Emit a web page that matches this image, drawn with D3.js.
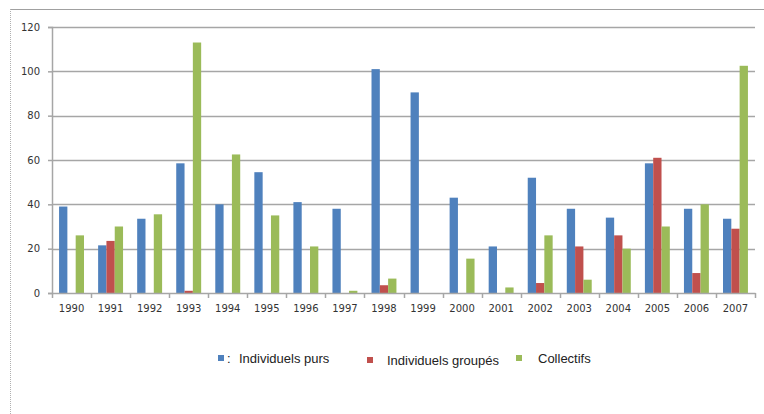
<!DOCTYPE html>
<html><head><meta charset="utf-8">
<script src="https://cdn.jsdelivr.net/npm/d3@7"></script>
<style>body{margin:0;background:#fff;}svg{display:block;}</style>
</head><body>
<svg id="c" width="764" height="414"></svg>
<script>
const years = ["1990","1991","1992","1993","1994","1995","1996","1997","1998","1999","2000","2001","2002","2003","2004","2005","2006","2007"];
const individuelsPurs   = [39, 21.5, 33.5, 58.5, 40, 54.5, 41, 38, 101, 90.5, 43, 21, 52, 38, 34, 58.5, 38, 33.5];
const individuelsGroupes = [0, 23.5, 0, 1, 0, 0, 0, 0, 3.5, 0, 0, 0, 4.5, 21, 26, 61, 9, 29];
const collectifs        = [26, 30, 35.5, 113, 62.5, 35, 21, 1, 6.5, 0, 15.5, 2.5, 26, 6, 20, 30, 40, 102.5];
const seriesNames = ["Individuels purs", "Individuels groupés", "Collectifs"];
const colors = ["#4F81BD", "#C0504D", "#9BBB59"];
const yTicks = [0, 20, 40, 60, 80, 100, 120];

const svg = d3.select("#c");
const pLeft = 52, pRight = 755, pTop = 27, pBottom = 293;

// outer frame
svg.append("line").attr("x1",10).attr("x2",764).attr("y1",9.5).attr("y2",9.5).attr("stroke","#a0a0a0").attr("stroke-width",1);
svg.append("line").attr("x1",10.5).attr("x2",10.5).attr("y1",9).attr("y2",414).attr("stroke","#b0b0b0").attr("stroke-width",1).attr("stroke-dasharray","1,1");

const x = d3.scaleBand().domain(years).range([pLeft, pRight]);
const y = d3.scaleLinear().domain([0, 120]).range([pBottom, pTop]);
const xs = d3.scaleBand().domain(seriesNames).range([0, x.bandwidth()]).paddingInner(0).paddingOuter(0.85);

// gridlines
svg.append("g").selectAll("line").data(yTicks.filter(d=>d>0)).join("line")
  .attr("x1", pLeft).attr("x2", pRight)
  .attr("y1", d=>Math.round(y(d))+0.5).attr("y2", d=>Math.round(y(d))+0.5)
  .attr("stroke", "#a6a6a6").attr("stroke-width", 1.5);

// bars
const allSeries = [individuelsPurs, individuelsGroupes, collectifs];
const g = svg.append("g");
allSeries.forEach((vals, si) => {
  g.append("g").selectAll("rect").data(vals).join("rect")
    .attr("x", (d,i) => x(years[i]) + xs(seriesNames[si]))
    .attr("width", xs.bandwidth())
    .attr("y", d => y(d))
    .attr("height", d => y(0) - y(d))
    .attr("fill", colors[si]);
});

// y axis
const yAxis = d3.axisLeft(y).tickValues(yTicks).tickSize(4).tickPadding(8);
const ya = svg.append("g").attr("transform", `translate(${pLeft},0)`).call(yAxis);
ya.select(".domain").attr("stroke","#a6a6a6").attr("stroke-width",1.5);
ya.selectAll(".tick line").attr("stroke","#a6a6a6").attr("stroke-width",1.5);
ya.selectAll("text").attr("font-family","'DejaVu Sans', sans-serif").attr("font-size",10).attr("fill","#333");

// x axis
const xAxis = d3.axisBottom(x).tickSize(0).tickPadding(12);
const xa = svg.append("g").attr("transform", `translate(0,${pBottom})`).call(xAxis);
xa.select(".domain").attr("stroke","#a6a6a6").attr("stroke-width",1.5);
xa.selectAll("text").attr("font-family","'DejaVu Sans', sans-serif").attr("font-size",10).attr("fill","#333");
// category boundary ticks
xa.append("g").selectAll("line").data(years.concat(["end"])).join("line")
  .attr("x1", (d,i) => Math.round(pLeft + i * x.step()) + 0.5)
  .attr("x2", (d,i) => Math.round(pLeft + i * x.step()) + 0.5)
  .attr("y1", 0).attr("y2", 5)
  .attr("stroke","#a6a6a6").attr("stroke-width",1.5);

// legend
const legendItems = [
  {sx: 218, tx: 239, label: seriesNames[0] , colon: true, ty: 358},
  {sx: 367, tx: 387, label: seriesNames[1], ty: 360},
  {sx: 516, tx: 538, label: seriesNames[2], ty: 358}
];
const lg = svg.append("g");
legendItems.forEach((it, i) => {
  lg.append("rect").attr("x", it.sx).attr("y", it.ty - 3).attr("width", 6).attr("height", 6).attr("fill", colors[i]);
  if (it.colon) lg.append("text").attr("x", it.sx + 9).attr("y", it.ty + 5).text(":")
    .attr("font-family","'Liberation Sans', Arial, sans-serif").attr("font-size",13).attr("fill","#222");
  lg.append("text").attr("x", it.tx).attr("y", it.ty + 5).text(it.label)
    .attr("font-family","'Liberation Sans', Arial, sans-serif").attr("font-size",13).attr("fill","#222");
});
</script>
</body></html>
